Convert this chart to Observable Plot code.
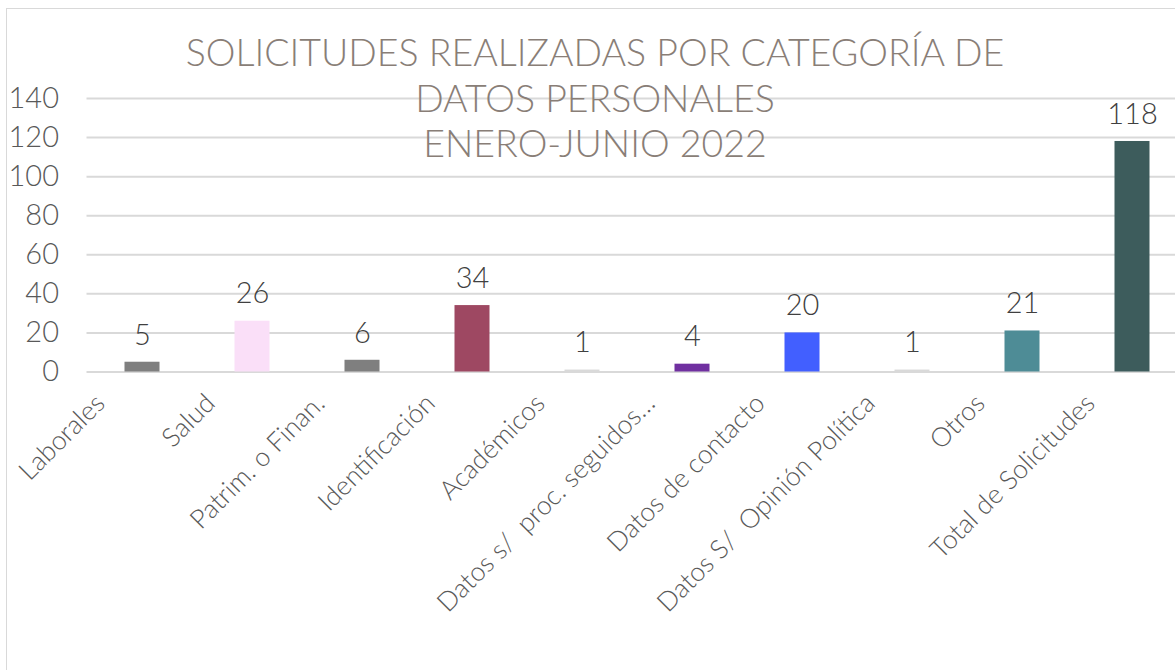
<!DOCTYPE html>
<html>
<head>
<meta charset="utf-8">
<script src="https://cdn.jsdelivr.net/npm/d3@7"></script>
<script src="https://cdn.jsdelivr.net/npm/@observablehq/plot@0.6"></script>
<style>
  html, body { margin: 0; padding: 0; background: #fff; overflow: hidden; width: 1175px; height: 670px; }
  #frame { position: absolute; left: 6px; top: 8px; width: 2000px; height: 2000px;
           border-left: 1.5px solid #d9d9d9; border-top: 1.5px solid #d9d9d9; }
  #chart { position: absolute; left: 0; top: 0; width: 1190px; }
  #chart svg { max-width: none !important; }
  #title { position: absolute; left: 0; top: 29px; width: 1190px; text-align: center;
           font-family: Lato, "Open Sans", sans-serif; font-weight: 300; font-size: 37.5px;
           line-height: 45.5px; color: #897e77; pointer-events: none; }
</style>
</head>
<body>
<div id="frame"></div>
<div id="chart"></div>
<div id="title">SOLICITUDES REALIZADAS POR CATEGORÍA DE<br>DATOS PERSONALES<br>ENERO-JUNIO 2022</div>
<script>
const categories = ["Laborales", "Salud", "Patrim. o Finan.", "Identificación", "Académicos",
  "Datos s/  proc. seguidos…", "Datos de contacto", "Datos S/  Opinión Política", "Otros", "Total de Solicitudes"];
const values = [5, 26, 6, 34, 1, 4, 20, 1, 21, 118];
const yTicks = [0, 20, 40, 60, 80, 100, 120, 140];
const barColors = ["#7f7f7f", "#fadff8", "#7f7f7f", "#9e4862", "#d9d9d9", "#7030a0", "#425fff", "#d9d9d9", "#4e8c96", "#3d5c5c"];

const data = categories.map((c, i) => ({cat: c, value: values[i]}));
const font = "Lato, 'Open Sans', sans-serif";

const chart = Plot.plot({
  width: 1190,
  height: 670,
  marginLeft: 86.5,
  marginRight: 3.5,
  marginTop: 98,
  marginBottom: 298.5,
  style: {fontFamily: font, background: "transparent", overflow: "visible", maxWidth: "none"},
  x: {domain: categories, padding: 0, axis: null},
  y: {domain: [0, 140], axis: null},
  color: {domain: categories, range: barColors},
  marks: [
    Plot.ruleY(yTicks, {stroke: "#d9d9d9", strokeWidth: 2}),
    Plot.axisY({ticks: yTicks, tickSize: 0, tickPadding: 28, fontSize: 29, fontWeight: 300, fill: "#595959", label: null, fontFamily: font}),
    Plot.barY(data, {x: "cat", y: "value", fill: "cat", insetLeft: 37.5, insetRight: 37.5}),
    Plot.text(data, {x: "cat", y: "value", text: d => String(d.value), dy: -27, fontSize: 29, fontWeight: 300, fill: "#404040", fontFamily: font}),
    Plot.text(data, {x: "cat", frameAnchor: "bottom", text: "cat", rotate: -45, textAnchor: "end",
      dx: -36, dy: 33, fontSize: 26.5, fontWeight: 300, fill: "#595959", fontFamily: font})
  ]
});
document.getElementById("chart").appendChild(chart);
</script>
</body>
</html>
